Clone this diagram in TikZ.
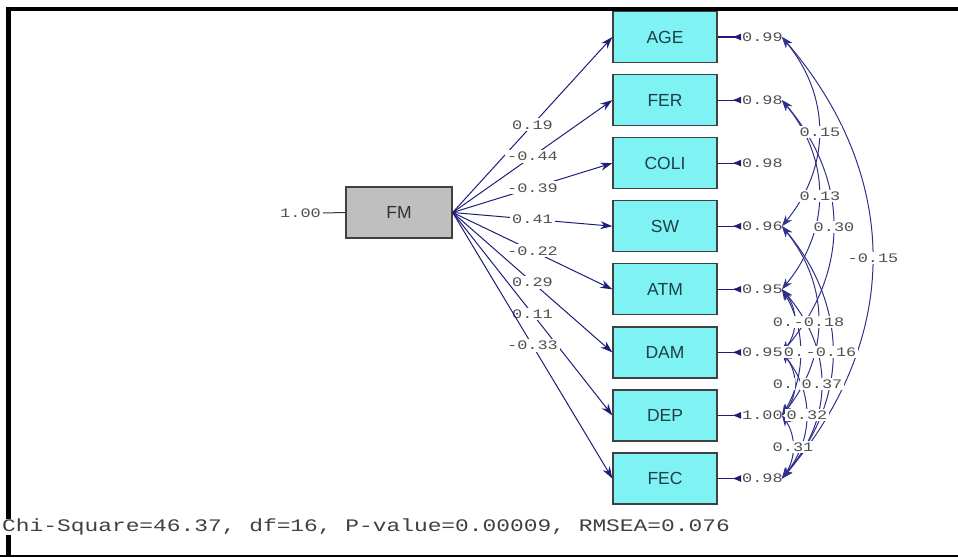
\documentclass[tikz,border=0pt]{standalone}
\usepackage{fontspec}
\setmainfont{Liberation Sans}
\newfontfamily\labfont[FakeStretch=1.3]{Liberation Mono}
\usetikzlibrary{arrows.meta}
\definecolor{boxcyan}{HTML}{7FF3F3}
\definecolor{pathblue}{HTML}{1E1E78}
\definecolor{covblue}{HTML}{303088}
\definecolor{labgray}{HTML}{505050}
\definecolor{boxtext}{HTML}{1F3F48}
\begin{document}
\begin{tikzpicture}[x=1pt,y=-1pt,
  obs/.style={draw=black!75, line width=1.3pt, fill=boxcyan, minimum width=104pt, minimum height=51pt, inner sep=0pt, font=\fontsize{17.5}{17.5}\selectfont, text=boxtext},
  lat/.style={obs, fill=gray!50, minimum width=106pt, text=black!80},
  load/.style={draw=pathblue, line width=1pt, -{Stealth[length=12pt,width=8pt]}},
  lab/.style={fill=white, inner sep=2pt, text=labgray, font=\labfont\fontsize{13}{13}\selectfont},
  errlab/.style={lab, fill=none, inner sep=1pt, anchor=west},
  errarr/.style={draw=pathblue, line width=1.2pt, -{Latex[reversed,length=9pt,width=7pt]}},
  cov/.style={draw=covblue, line width=1pt, {Stealth[length=11pt,width=8pt]}-{Stealth[length=11pt,width=8pt]}},
  frame/.style={draw=black}
]
\useasboundingbox (0,0) rectangle (958,557);

% latent variable
\node[lat] (FM) at (399,212.5) {FM};
\node[lab, anchor=east] (fmvar) at (323,213) {1.00};
\draw[black!80, line width=1pt] (fmvar.east) -- (FM.west);

% observed variables
\node[obs] (AGE)  at (665,37)    {AGE};
\node[obs] (FER)  at (665,100.1) {FER};
\node[obs] (COLI) at (665,163.1) {COLI};
\node[obs] (SW)   at (665,226.2) {SW};
\node[obs] (ATM)  at (665,289.3) {ATM};
\node[obs] (DAM)  at (665,352.4) {DAM};
\node[obs] (DEP)  at (665,415.4) {DEP};
\node[obs] (FEC)  at (665,478.5) {FEC};

% loadings
\draw[load] (FM.east) -- (AGE.west)  node[lab,pos=0.5] (l1) {0.19};
\draw[load] (FM.east) -- (FER.west)  node[lab,pos=0.5] (l2) {-0.44};
\draw[load] (FM.east) -- (COLI.west) node[lab,pos=0.5] (l3) {-0.39};
\draw[load] (FM.east) -- (SW.west)   node[lab,pos=0.5] (l4) {0.41};
\draw[load] (FM.east) -- (ATM.west)  node[lab,pos=0.5] (l5) {-0.22};
\draw[load] (FM.east) -- (DAM.west)  node[lab,pos=0.5] (l6) {0.29};
\draw[load] (FM.east) -- (DEP.west)  node[lab,pos=0.5] (l7) {0.11};
\draw[load] (FM.east) -- (FEC.west)  node[lab,pos=0.5] (l8) {-0.33};

% error variances
\node[errlab] (eAGE)  at (741,37)    {0.99};
\node[errlab] (eFER)  at (741,100.1) {0.98};
\node[errlab] (eCOLI) at (741,163.1) {0.98};
\node[errlab] (eSW)   at (741,226.2) {0.96};
\node[errlab] (eATM)  at (741,289.3) {0.95};
\node[errlab] (eDAM)  at (741,352.4) {0.95};
\node[errlab] (eDEP)  at (741,415.4) {1.00};
\node[errlab] (eFEC)  at (741,478.5) {0.98};
\foreach \v in {AGE,FER,COLI,SW,ATM,DAM,DEP,FEC}
  \draw[errarr] (\v.east) -- (e\v.west);

% error covariances
\draw[cov] ([xshift=-2pt]eAGE.east) .. controls +(49,60) and +(49,-60) .. ([xshift=-2pt]eSW.east);
\draw[cov] ([xshift=-2pt]eFER.east) .. controls +(49,60) and +(49,-60) .. ([xshift=-2pt]eATM.east);
\draw[cov] ([xshift=-2pt]eFER.east) .. controls +(68,80) and +(68,-80) .. ([xshift=-2pt]eDAM.east);
\draw[cov] ([xshift=-2pt]eAGE.east) .. controls +(120,140) and +(120,-140) .. ([xshift=-2pt]eFEC.east);
\draw[cov] ([xshift=-2pt]eATM.east) .. controls +(16,20) and +(16,-20) .. ([xshift=-2pt]eDAM.east);
\draw[cov] ([xshift=-2pt]eSW.east) .. controls +(48,60) and +(48,-60) .. ([xshift=-2pt]eDEP.east);
\draw[cov] ([xshift=-2pt]eATM.east) .. controls +(24,40) and +(24,-40) .. ([xshift=-2pt]eDEP.east);
\draw[cov] ([xshift=-2pt]eSW.east) .. controls +(67,80) and +(67,-80) .. ([xshift=-2pt]eFEC.east);
\draw[cov] ([xshift=-2pt]eDAM.east) .. controls +(16,20) and +(16,-20) .. ([xshift=-2pt]eDEP.east);
\draw[cov] ([xshift=-2pt]eATM.east) .. controls +(52,60) and +(52,-60) .. ([xshift=-2pt]eFEC.east);
\draw[cov] ([xshift=-2pt]eDAM.east) .. controls +(32,40) and +(32,-40) .. ([xshift=-2pt]eFEC.east);
\draw[cov] ([xshift=-2pt]eDEP.east) .. controls +(14,20) and +(14,-20) .. ([xshift=-2pt]eFEC.east);

\node[lab] (c1)  at (820,132) {0.15};
\node[lab] (c2)  at (820,196) {0.13};
\node[lab] (c3)  at (834,227) {0.30};
\node[lab] (c4)  at (873,258) {-0.15};
\node[lab] (c5)  at (783,322) {0.};
\node[lab] (c6)  at (819,322) {-0.18};
\node[lab] (c7)  at (794,352) {0.};
\node[lab] (c8)  at (831,352) {-0.16};
\node[lab] (c9)  at (783,384) {0.};
\node[lab] (c10) at (822,384) {0.37};
\node[lab] (c11) at (807,415) {0.32};
\node[lab] (c12) at (793,447) {0.31};

% frame
\draw[frame, line width=4pt] (6,9) -- (958,9);
\draw[frame, line width=5pt] (8.5,7) -- (8.5,557);
\draw[frame, line width=2pt] (0,555.5) -- (958,555.5);

% fit statistics
\node[lab, anchor=west, inner sep=0pt, text=black!75, font=\labfont\fontsize{17.6}{17.6}\selectfont] (fit) at (2,527) {Chi-Square=46.37, df=16, P-value=0.00009, RMSEA=0.076};
\end{tikzpicture}
\end{document}
